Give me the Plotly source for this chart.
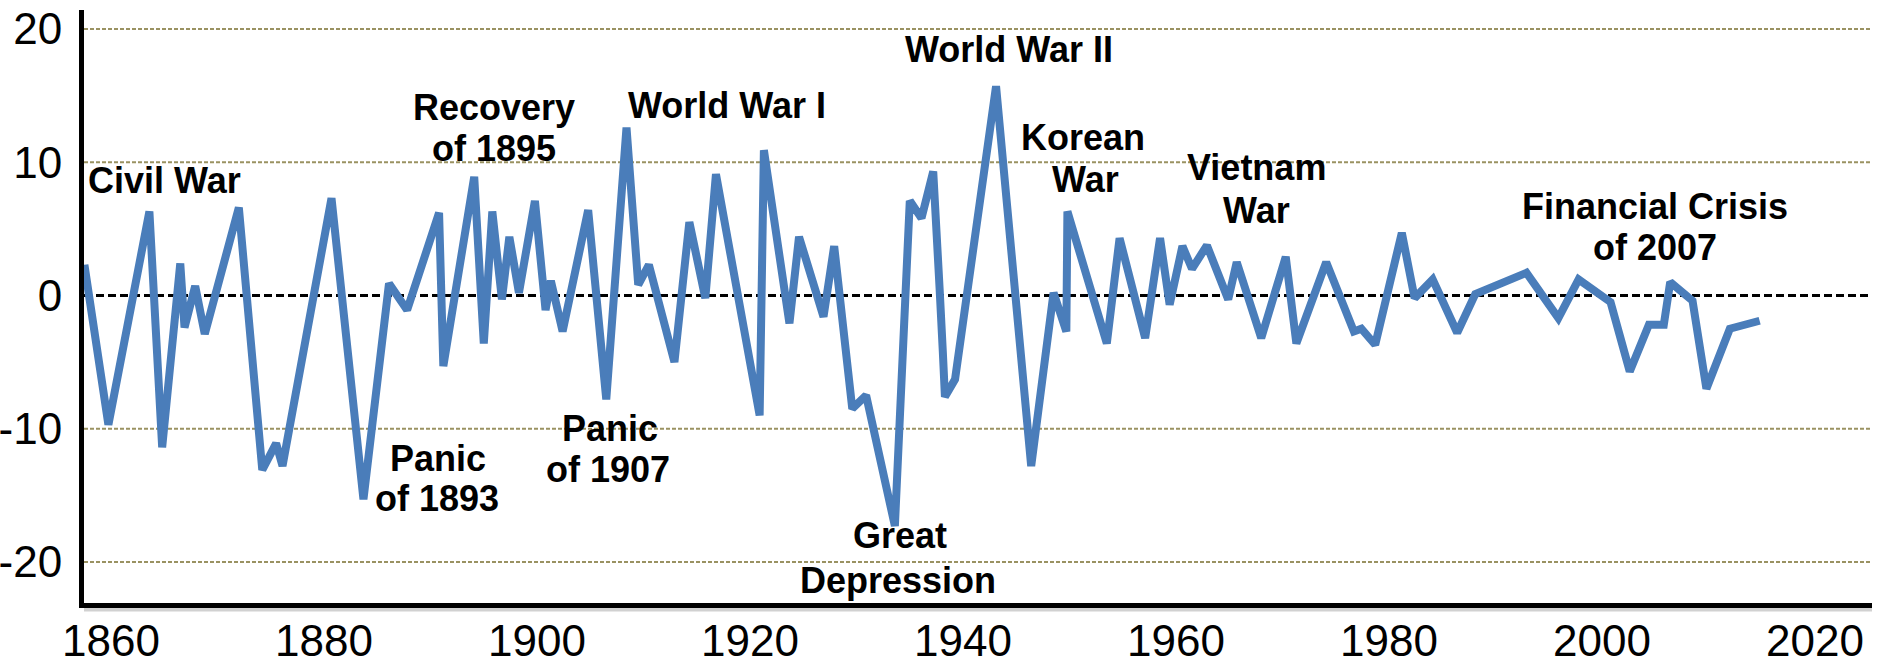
import plotly.graph_objects as go

# ---- data ----
years = [1857.5, 1859.75, 1863.6, 1864.8, 1866.5, 1866.9, 1867.9, 1868.8, 1872.0, 1874.2,
         1875.5, 1876.1, 1880.7, 1883.7, 1886.1, 1887.8, 1890.8, 1891.2, 1894.1, 1895.0,
         1895.8, 1896.7, 1897.4, 1898.3, 1899.8, 1900.8, 1901.3, 1902.4, 1904.8, 1906.5,
         1908.4, 1909.5, 1910.5, 1912.9, 1914.3, 1915.8, 1916.8, 1920.4, 1920.9, 1921.3,
         1923.7, 1924.6, 1926.9, 1927.9, 1929.6, 1930.9, 1933.6, 1935.0, 1936.1, 1937.2,
         1937.5, 1937.8, 1938.1, 1938.3, 1939.25, 1943.1, 1946.4, 1948.5, 1949.7, 1949.8,
         1953.5, 1954.7, 1957.1, 1958.5, 1959.4, 1960.6, 1961.5, 1962.9, 1964.9, 1965.7,
         1968.0, 1970.3, 1971.3, 1974.1, 1976.7, 1977.4, 1978.7, 1981.2, 1982.4, 1984.1,
         1986.4, 1988.1, 1992.9, 1995.9, 1997.8, 2000.8, 2002.6, 2004.4, 2005.8, 2006.4,
         2008.5, 2009.8, 2012.0, 2014.8]
values = [2.3, -9.7, 6.3, -11.4, 2.4, -2.4, 0.7, -2.9, 6.6, -13.1,
          -11.1, -12.8, 7.3, -15.3, 0.9, -1.1, 6.2, -5.3, 8.9, -3.6,
          6.3, -0.3, 4.4, 0.2, 7.1, -1.1, 1.1, -2.7, 6.4, -7.8,
          12.6, 0.8, 2.3, -5.0, 5.5, -0.2, 9.1, -7.5, -9.0, 10.9,
          -2.1, 4.4, -1.6, 3.7, -8.5, -7.5, -17.3, 7.1, 5.8, 9.3,
          5.6, 0.5, -4.2, -7.6, -6.3, 15.7, -12.8, 0.2, -2.7, 6.3,
          -3.6, 4.3, -3.2, 4.3, -0.7, 3.7, 2.0, 3.75, -0.3, 2.5,
          -3.2, 2.9, -3.6, 2.5, -2.7, -2.5, -3.7, 4.7, -0.2, 1.2,
          -2.8, 0.1, 1.7, -1.7, 1.2, -0.5, -5.7, -2.2, -2.2, 1.0,
          -0.4, -7.0, -2.5, -1.9]

x_ticks = [1860, 1880, 1900, 1920, 1940, 1960, 1980, 2000, 2020]
y_ticks = [-20, -10, 0, 10, 20]
grid_values = [-20, -10, 10, 20]
zero_value = 0

# event labels (text lines)
label_texts = ["Civil War", "Recovery", "of 1895", "World War I", "World War II",
               "Korean", "War", "Vietnam", "War", "Financial Crisis", "of 2007",
               "Panic", "of 1893", "Panic", "of 1907", "Great", "Depression"]
label_x = [1865.0, 1895.96, 1895.96, 1917.84, 1944.3,
           1951.27, 1951.46, 1967.6, 1967.6, 2004.98, 2004.98,
           1890.7, 1890.6, 1906.85, 1906.67, 1934.08, 1933.9]
label_y = [8.62, 14.14, 11.02, 14.29, 18.42,
           11.85, 8.69, 9.57, 6.40, 6.64, 3.63,
           -12.20, -15.21, -9.95, -13.03, -17.98, -21.37]

LINE_COLOR = "#4a7dba"
GRID_COLOR = "#9a9262"
FONT = "Liberation Sans, Arial, sans-serif"

fig = go.Figure()
fig.add_trace(go.Scatter(
    x=years, y=values, mode="lines",
    line=dict(color=LINE_COLOR, width=8),
    hoverinfo="x+y", showlegend=False,
))

shapes = []
for g in grid_values:
    shapes.append(dict(type="line", xref="paper", x0=0, x1=1, yref="y", y0=g, y1=g,
                       line=dict(color=GRID_COLOR, width=2, dash="4px,2px"), layer="below"))
shapes.append(dict(type="line", xref="paper", x0=0, x1=1, yref="y", y0=zero_value, y1=zero_value,
                   line=dict(color="black", width=3, dash="8px,4px"), layer="below"))
# soft shadow beneath the bottom axis line
shapes.append(dict(type="line", xref="paper", x0=0, x1=1, yref="paper", y0=-0.011, y1=-0.011,
                   line=dict(color="rgba(0,0,0,0.18)", width=4), layer="below"))

annotations = []
for t, ax_, ay_ in zip(label_texts, label_x, label_y):
    annotations.append(dict(text=t, x=ax_, y=ay_, xref="x", yref="y", showarrow=False,
                            xanchor="center", yanchor="middle", borderpad=0,
                            font=dict(family=FONT, size=36, color="black", weight="bold")))

fig.update_layout(
    width=1880, height=667,
    margin=dict(l=84, r=8, t=10, b=64),
    paper_bgcolor="white", plot_bgcolor="white",
    shapes=shapes, annotations=annotations,
    showlegend=False,
    xaxis=dict(range=[1857.46, 2025.35], tickvals=x_ticks, ticktext=[str(v) for v in x_ticks],
               showgrid=False, zeroline=False, showline=True, linecolor="black", linewidth=5,
               ticks="", ticklabelstandoff=-5, automargin=False,
               tickfont=dict(family=FONT, size=44, color="black")),
    yaxis=dict(range=[-23.08, 21.42], tickvals=y_ticks, ticktext=[str(v) for v in y_ticks],
               showgrid=False, zeroline=False, showline=True, linecolor="black", linewidth=5,
               ticks="", ticklabelstandoff=8, automargin=False,
               tickfont=dict(family=FONT, size=44, color="black")),
)

fig.write_html("out.html",
               config={"displayModeBar": False},
               post_script="document.body.style.margin='0';document.body.style.overflow='hidden';")
